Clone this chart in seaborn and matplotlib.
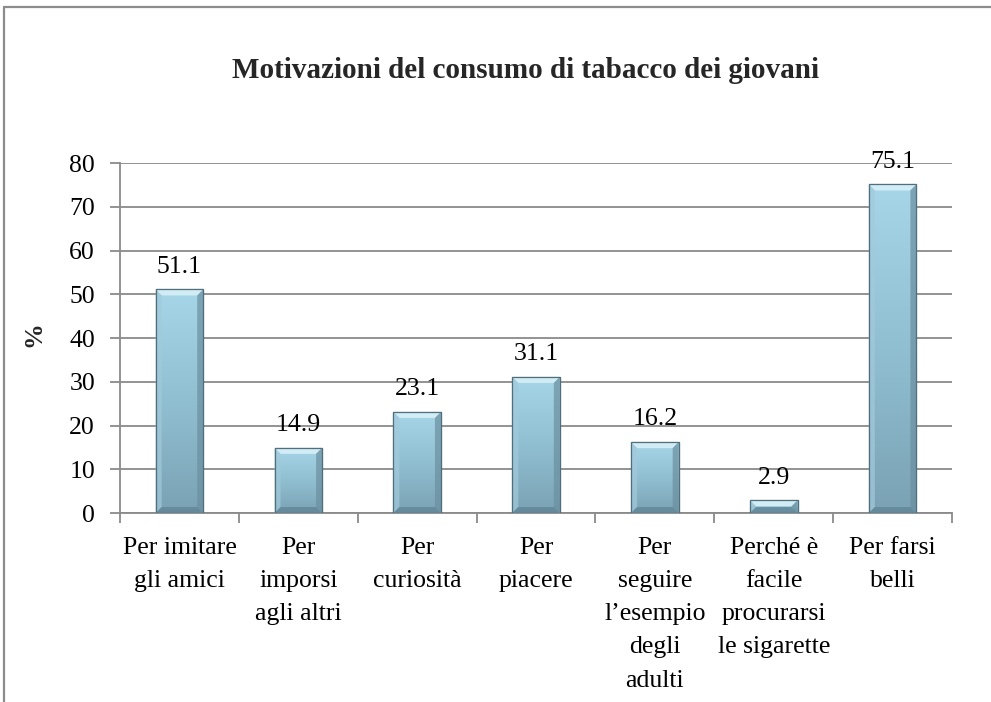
import numpy as np
import pandas as pd
import matplotlib
matplotlib.use("Agg")
import matplotlib.pyplot as plt
from matplotlib.patches import Polygon, Rectangle
import seaborn as sns

categories = [
    "Per imitare\ngli amici",
    "Per\nimporsi\nagli altri",
    "Per\ncuriosità",
    "Per\npiacere",
    "Per\nseguire\nl\u2019esempio\ndegli\nadulti",
    "Perché è\nfacile\nprocurarsi\nle sigarette",
    "Per farsi\nbelli",
]
values = [51.1, 14.9, 23.1, 31.1, 16.2, 2.9, 75.1]
y_ticks = [0, 10, 20, 30, 40, 50, 60, 70, 80]
title = "Motivazioni del consumo di tabacco dei giovani"

sns.set_theme(style="white")
plt.rcParams["font.family"] = ["Liberation Serif", "DejaVu Serif"]

df = pd.DataFrame({"motivo": categories, "pct": values})

fig = plt.figure(figsize=(9.91, 7.02), dpi=100)
ax = fig.add_axes([0.1211, 0.2692, 0.8396, 0.4986])

sns.barplot(data=df, x="motivo", y="pct", ax=ax, color="#8fbfd2",
            width=0.40, saturation=1, edgecolor="#4f6f7d", linewidth=0.8,
            zorder=3)

FS = 18.5
ax.set_ylim(0, 80)
ax.set_xlim(-0.5, len(categories) - 0.5)
ax.set_yticks(y_ticks)
ax.set_yticklabels([str(t) for t in y_ticks], fontsize=FS)
ax.set_xticks(np.arange(len(categories)))
ax.set_xticklabels(categories, fontsize=FS, linespacing=1.66)
ax.set_xlabel("")
ax.set_ylabel("%", fontsize=FS, fontweight="bold")
ax.yaxis.set_label_coords(-0.090, 0.51)

grid_c = "#8a8a8a"
ax.yaxis.grid(True, color=grid_c, linewidth=1.3, zorder=0)
ax.set_axisbelow(True)
for side in ["top", "right"]:
    ax.spines[side].set_visible(False)
for side in ["left", "bottom"]:
    ax.spines[side].set_color(grid_c)
    ax.spines[side].set_linewidth(1.3)

# y ticks point outward; x ticks sit at the category boundaries
ax.tick_params(axis="y", which="major", left=True, length=7, width=1.3,
               color=grid_c, pad=11, labelcolor="black")
ax.tick_params(axis="x", which="major", bottom=False, pad=11,
               labelcolor="black")
ax.set_xticks(np.arange(len(categories) + 1) - 0.5, minor=True)
ax.tick_params(axis="x", which="minor", bottom=True, length=7, width=1.3,
               color=grid_c)

fig.text(526 / 991, 1 - 71 / 702, title, fontsize=21, fontweight="bold",
         ha="center", va="center")

# Bevelled, vertically shaded bar faces
fig.canvas.draw()
to_data = ax.transData.inverted()
px_x = abs(to_data.transform((6, 0))[0] - to_data.transform((0, 0))[0])
px_y = abs(to_data.transform((0, 6))[1] - to_data.transform((0, 0))[1])
grad = np.linspace(0, 1, 256).reshape(-1, 1)
cmap = matplotlib.colors.LinearSegmentedColormap.from_list(
    "bar", ["#7aa2b4", "#91bfd2", "#a8d6e9"])
for patch in ax.patches:
    x0, y0 = patch.get_x(), patch.get_y()
    w, h = patch.get_width(), patch.get_height()
    x1, y1 = x0 + w, y0 + h
    im = ax.imshow(grad, cmap=cmap, origin="lower", aspect="auto",
                   extent=(x0, x1, y0, y1), zorder=3.1)
    im.set_clip_path(patch)
    bx = min(px_x, w / 2)
    by = min(px_y, h / 2)
    top = Polygon([(x0, y1), (x1, y1), (x1 - bx, y1 - by), (x0 + bx, y1 - by)],
                  closed=True, facecolor="#d2ecf5", edgecolor="none", zorder=3.2)
    left = Polygon([(x0, y0), (x0, y1), (x0 + bx, y1 - by), (x0 + bx, y0 + by)],
                   closed=True, facecolor="#a2cadb", alpha=0.7,
                   edgecolor="none", zorder=3.2)
    right = Polygon([(x1, y0), (x1, y1), (x1 - bx, y1 - by), (x1 - bx, y0 + by)],
                    closed=True, facecolor="#6a8f9f", alpha=0.7,
                    edgecolor="none", zorder=3.2)
    bottom = Polygon([(x0, y0), (x1, y0), (x1 - bx, y0 + by), (x0 + bx, y0 + by)],
                     closed=True, facecolor="#5e8394", alpha=0.75,
                     edgecolor="none", zorder=3.2)
    for p in (top, left, right, bottom):
        ax.add_patch(p)
    ax.add_patch(Rectangle((x0, y0), w, h, facecolor="none",
                           edgecolor="#4f6f7d", linewidth=0.9, zorder=3.3))

for i, v in enumerate(values):
    ax.annotate(f"{v:.1f}", xy=(i, v), xytext=(0, 12), textcoords="offset points",
                ha="center", va="baseline", fontsize=FS, color="black", zorder=5)

# Chart area frame (left and top edges)
frame_c = "#8c8c8c"
fig.add_artist(plt.Line2D([4 / 991, 4 / 991], [0, 1 - 7 / 702],
                          transform=fig.transFigure, color=frame_c, linewidth=1.6))
fig.add_artist(plt.Line2D([4 / 991, 1], [1 - 7 / 702, 1 - 7 / 702],
                          transform=fig.transFigure, color=frame_c, linewidth=1.6))

fig.savefig("out.png", dpi=100, facecolor="white")
